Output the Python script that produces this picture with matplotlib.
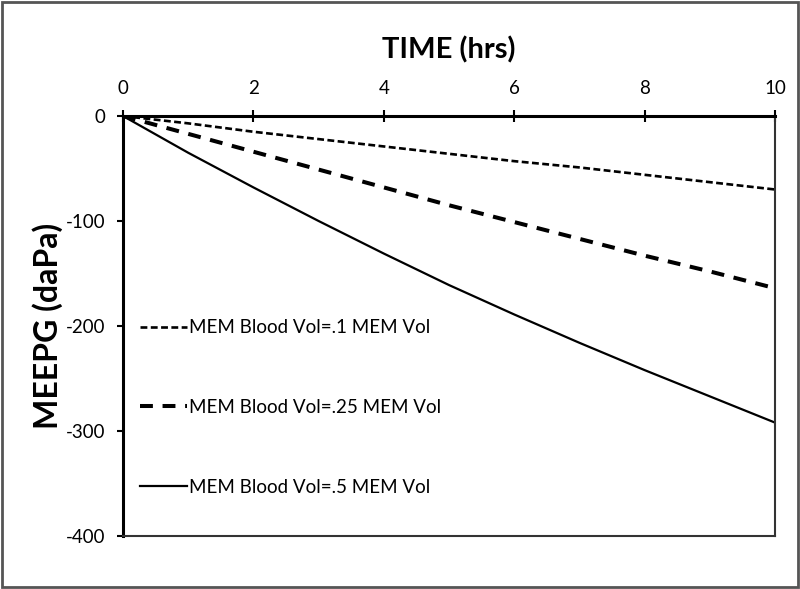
import matplotlib
matplotlib.use("Agg")
import matplotlib.pyplot as plt
from matplotlib.patches import Rectangle

plt.rcParams['font.family'] = ['Lato', 'DejaVu Sans']
plt.rcParams['axes.unicode_minus'] = False

time_hrs = [0, 1, 2, 3, 4, 5, 6, 7, 8, 9, 10]
vol_01 = [0, -7, -15, -22, -29, -36, -43, -49, -56, -63, -70]
vol_025 = [0, -17, -34, -51, -68, -85, -101, -117, -133, -148, -164]
vol_05 = [0, -35, -68, -100, -131, -161, -189, -216, -242, -267, -292]
labels = ["MEM Blood Vol=.1 MEM Vol", "MEM Blood Vol=.25 MEM Vol", "MEM Blood Vol=.5 MEM Vol"]
x_ticks = [0, 2, 4, 6, 8, 10]
y_ticks = [0, -100, -200, -300, -400]

fig = plt.figure(figsize=(8, 5.89), dpi=100)
ax = fig.add_axes([123/800, 1-536/589, (775-123)/800, (536-116)/589])

ax.plot(time_hrs, vol_01, color='black', lw=1.9, dashes=(2.6, 1.3), label=labels[0])
ax.plot(time_hrs, vol_025, color='black', lw=2.9, dashes=(3.2, 2.4), label=labels[1])
ax.plot(time_hrs, vol_05, color='black', lw=1.6, label=labels[2])

ax.set_xlim(0, 10)
ax.set_ylim(-400, 0)
ax.set_xticks(x_ticks)
ax.set_yticks(y_ticks)
ax.xaxis.tick_top()
ax.xaxis.set_label_position('top')
ax.tick_params(axis='x', direction='inout', length=9, width=1.5, labelsize=13.5, pad=9)
ax.tick_params(axis='y', direction='out', length=4.5, width=1.5, labelsize=13.5, pad=8)

for s in ['top', 'left']:
    ax.spines[s].set_linewidth(2.2)
for s in ['right', 'bottom']:
    ax.spines[s].set_linewidth(1.5)
    ax.spines[s].set_color('#333333')

ax.set_xlabel('TIME (hrs)', fontsize=21, fontweight='bold', labelpad=16)
ax.set_ylabel('MEEPG (daPa)', fontsize=23, fontweight='bold', labelpad=2)

leg = ax.legend(loc='center left', bbox_to_anchor=(140/800, 1-407.5/589),
                bbox_transform=fig.transFigure, frameon=False, fontsize=13.5,
                handlelength=2.5, handletextpad=0.1, labelspacing=3.35, borderpad=0,
                borderaxespad=0)

fig.patches.append(Rectangle((0.003, 0.003), 0.994, 0.994, transform=fig.transFigure,
                             fill=False, edgecolor='#555555', lw=2))

fig.savefig('out.png', dpi=100)
